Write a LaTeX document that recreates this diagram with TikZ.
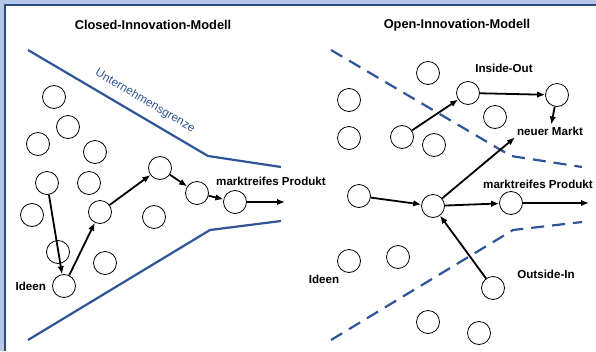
\documentclass[tikz,border=0pt]{standalone}
\usepackage{fontspec}
\setmainfont{Liberation Sans}
\usetikzlibrary{positioning}
\usetikzlibrary{calc}
\usetikzlibrary{arrows.meta}
\definecolor{grenze-blau}{HTML}{2F5597}
\definecolor{rahmen-hell}{HTML}{B4C7E7}
\definecolor{rahmen-dunkel}{HTML}{2F4A7A}

\begin{document}
\begin{tikzpicture}[x=1pt, y=-1pt, font=\bfseries\fontsize{11.6}{13}\selectfont,
  text only/.style={inner sep=2pt, align=center},
  titel/.style={text only, font=\bfseries\fontsize{12.8}{14}\selectfont},
  idee/.style={draw, circle, minimum size=23pt, inner sep=0pt, line width=0.8pt},
  fluss/.style={-{Latex[length=8pt, width=6.5pt]}, line width=1.8pt},
  grenze/.style={grenze-blau, line width=2.2pt},
  offen/.style={grenze, dash pattern=on 13pt off 8pt}]
\useasboundingbox (0,0) rectangle (596,351);
% rahmen
\fill[rahmen-hell] (0,0) rectangle (596,351);
\fill[white] (5,5) rectangle (596,351);
\draw[rahmen-dunkel, line width=2pt] (4.5,351) -- (4.5,4.5) -- (596,4.5);
% titel
\node[titel] (titel-closed) at (153,25) {Closed-Innovation-Modell};
\node[titel] (titel-open) at (457,25) {Open-Innovation-Modell};
% closed innovation
\draw[grenze] (28,50) -- (208,156) -- (281,167);
\draw[grenze] (28,340) -- (210,230) -- (281,221);
\node[text only, text=grenze-blau, font=\fontsize{11.8}{13}\selectfont, rotate=-30.5]
  (l-grenze) at (145,101) {Unternehmensgrenze};
\foreach \name/\x/\y in {a/54/97, b/68/127, c/38/144, d/95/152, e/89/183,
    f/32/215, g/154/217, h/58/252, i/105/263} {
  \node[idee] (l-\name) at (\x,\y) {};
}
\node[idee] (l-start) at (47,183) {};
\node[idee] (l-ideen) at (64,286) {};
\node[idee] (l-1) at (100,212) {};
\node[idee] (l-2) at (160,168) {};
\node[idee] (l-3) at (197,193) {};
\node[idee] (l-4) at (235,202) {};
\coordinate (l-ende) at (285,202);
\foreach \a/\b in {start/ideen, ideen/1, 1/2, 2/3, 3/4, 4/ende} {
  \draw[fluss] (l-\a) -- (l-\b);
}
\node[text only, left=4pt of l-ideen] (l-ideen-text) {Ideen};
\node[text only, anchor=west] (l-produkt) at (214,181) {marktreifes Produkt};
% open innovation
\draw[offen] (331,50) -- (511,156) -- (582,167);
\draw[offen] (331,340) -- (513,230) -- (582,222);
\foreach \name/\x/\y in {a/428/73, b/349/100, c/495/117, d/349/138, e/434/145,
    f/349/261, g/398/257, h/428/322, i/479/333} {
  \node[idee] (r-\name) at (\x,\y) {};
}
\node[idee] (r-start) at (402,137) {};
\node[idee] (r-inside) at (468,93) {};
\node[idee] (r-markt) at (557,95) {};
\node[idee] (r-ideen) at (359,196) {};
\node[idee] (r-mitte) at (433,206) {};
\node[idee] (r-produkt) at (511,203) {};
\node[idee] (r-outside) at (493,288) {};
\node[text only] (r-inside-text) at (504,68) {Inside-Out};
\node[text only] (r-markt-text) at (550,131) {neuer Markt};
\node[text only] (r-produkt-text) at (538,184) {marktreifes Produkt};
\node[text only] (r-outside-text) at (546,274) {Outside-In};
\node[text only] (r-ideen-text) at (324,279) {Ideen};
\coordinate (r-ende) at (589,203);
\foreach \a/\b in {start/inside, inside/markt, ideen/mitte, mitte/produkt,
    produkt/ende, outside/mitte} {
  \draw[fluss] (r-\a) -- (r-\b);
}
\draw[fluss] (r-markt) -- (r-markt-text);
\draw[fluss] (r-mitte) -- (r-markt-text.south west);
\end{tikzpicture}
\end{document}
